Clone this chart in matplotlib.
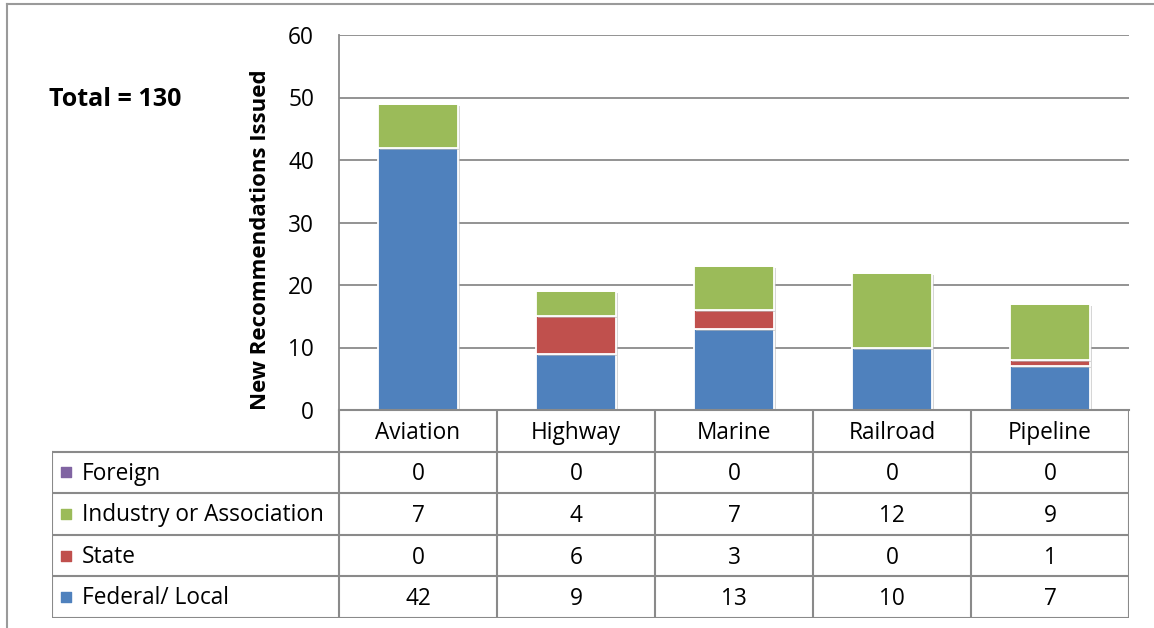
import numpy as np
import matplotlib.pyplot as plt
from matplotlib import patheffects

plt.rcParams['font.family'] = ['Open Sans', 'DejaVu Sans']

# Recommendations by mode and recipient
categorias = ['Aviation', 'Highway', 'Marine', 'Railroad', 'Pipeline']
series = ['Foreign', 'Industry or Association', 'State', 'Federal/ Local']
foreign = [0, 0, 0, 0, 0]
industria = [7, 4, 7, 12, 9]
estatal = [0, 6, 3, 0, 1]
federal = [42, 9, 13, 10, 7]
total_txt = 'Total = 130'

colores = {
    'Foreign': '#8064A2',
    'Industry or Association': '#9BBB59',
    'State': '#C0504D',
    'Federal/ Local': '#4F81BD',
}
valores = {
    'Foreign': foreign,
    'Industry or Association': industria,
    'State': estatal,
    'Federal/ Local': federal,
}

W, H = 1154, 628
fig = plt.figure(figsize=(W / 100, H / 100), dpi=100)
gris = '#8A8A8A'
fs = 16.3

# marco exterior (solo se ve arriba y a la izquierda)
fig.add_artist(plt.Line2D([7 / W, 7 / W], [0, 1 - 4 / H], color='#9A9A9A', lw=1.5))
fig.add_artist(plt.Line2D([7 / W, 1], [1 - 4 / H, 1 - 4 / H], color='#9A9A9A', lw=1.5))

# grafico de barras apiladas
x0, x1 = 339, 1129
y_top, y_cero, y_fin = 35, 410, 618
ax = fig.add_axes([x0 / W, (H - y_cero) / H, (x1 - x0) / W, (y_cero - y_top) / H])
x = np.arange(len(categorias))
base = np.zeros(len(categorias))
sombra = [patheffects.SimplePatchShadow(offset=(1.5, -1.5), shadow_rgbFace='#BBBBBB', alpha=0.6),
          patheffects.Normal()]
for nombre in ['Federal/ Local', 'State', 'Industry or Association', 'Foreign']:
    v = np.array(valores[nombre], dtype=float)
    barras = ax.bar(x, v, width=0.51, bottom=base, color=colores[nombre],
                    edgecolor='white', linewidth=1.3, zorder=3)
    for b in barras:
        if b.get_height() > 0:
            b.set_path_effects(sombra)
    base += v

ax.set_xlim(-0.5, len(categorias) - 0.5)
ax.set_ylim(0, 60)
ax.set_yticks(range(0, 61, 10))
ax.yaxis.grid(True, color=gris, lw=1.3, zorder=0)
ax.set_xticks([])
ax.tick_params(axis='y', length=0, pad=18, labelsize=fs)
for lado in ['top', 'right', 'bottom']:
    ax.spines[lado].set_visible(False)
ax.spines['left'].set_color(gris)
ax.spines['left'].set_linewidth(1.3)
ax.axhline(0, color=gris, lw=1.5, zorder=4, clip_on=False)

fig.text(261 / W, 1 - 240 / H, 'New Recommendations Issued', rotation=90,
         ha='center', va='center', fontsize=16, fontweight='bold')
fig.text(49 / W, 1 - 100 / H, total_txt, ha='left', va='center',
         fontsize=18, fontweight='bold')

# tabla de datos debajo del grafico
ancho_col = (x1 - x0) / len(categorias)
izq = -0.5 - (x0 - 52) / ancho_col
at = fig.add_axes([52 / W, (H - y_fin) / H, (x1 - 52) / W, (y_fin - y_cero) / H])
at.set_xlim(izq, len(categorias) - 0.5)
at.set_ylim(5, 0)
at.axis('off')

for k in range(len(categorias) + 1):
    at.plot([k - 0.5, k - 0.5], [0, 5], color=gris, lw=1.5, solid_capstyle='projecting')
at.plot([izq, izq], [1, 5], color=gris, lw=1.5, solid_capstyle='projecting')
for fila in range(1, 6):
    at.plot([izq, len(categorias) - 0.5], [fila, fila], color=gris, lw=1.5,
            solid_capstyle='projecting')

for i, c in enumerate(categorias):
    at.text(i, 0.55, c, ha='center', va='center', fontsize=fs)

for fila, nombre in enumerate(series, start=1):
    at.scatter([izq + 0.09], [fila + 0.5], marker='s', s=60, color=colores[nombre],
               clip_on=False, zorder=3)
    at.text(izq + 0.19, fila + 0.53, nombre, ha='left', va='center', fontsize=fs)
    for i, v in enumerate(valores[nombre]):
        at.text(i, fila + 0.55, str(v), ha='center', va='center', fontsize=fs)

fig.savefig('out.png', dpi=100)
